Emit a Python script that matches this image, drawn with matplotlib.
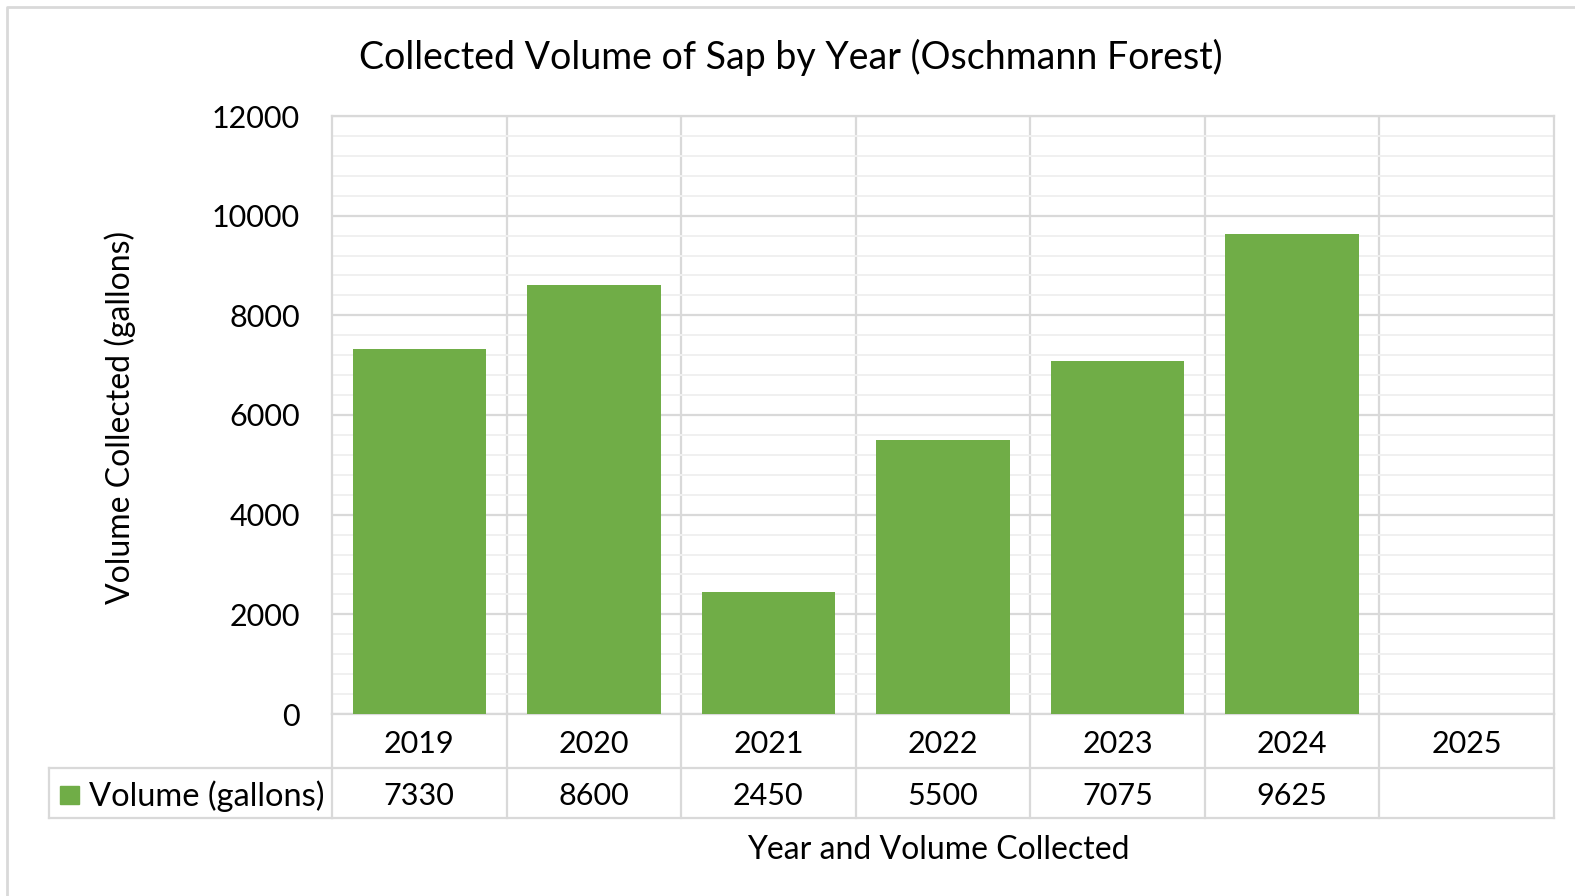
import numpy as np
import matplotlib.pyplot as plt
from matplotlib.patches import Rectangle

plt.rcParams['font.family'] = ['Lato', 'DejaVu Sans']

years = ['2019', '2020', '2021', '2022', '2023', '2024', '2025']
volume = [7330, 8600, 2450, 5500, 7075, 9625, None]
series_name = 'Volume (gallons)'

W, H = 1575, 896
fig = plt.figure(figsize=(W / 100, H / 100), dpi=100)

# plot area in pixels
x0, x1, ytop, ybot = 332, 1554, 116, 714
ax = fig.add_axes([x0 / W, 1 - ybot / H, (x1 - x0) / W, (ybot - ytop) / H])

green = '#70ad47'
grid = '#d9d9d9'
minor = '#f0f0f0'
txt = '#000000'
num_fs = 22
word_fs = 23

xs = np.arange(len(years))
vals = [v if v is not None else 0 for v in volume]
ax.bar(xs, vals, width=0.765, color=green, zorder=3)

ax.set_xlim(-0.5, len(years) - 0.5)
ax.set_ylim(0, 12000)
ax.set_yticks(np.arange(0, 12001, 2000))
ax.set_yticks(np.arange(0, 12001, 400), minor=True)
ax.set_xticks([])
ax.tick_params(axis='y', which='both', length=0, labelsize=num_fs, pad=23)
for lab in ax.get_yticklabels():
    lab.set_verticalalignment('center_baseline')
ax.grid(axis='y', which='major', color=grid, lw=1.6, zorder=1)
ax.grid(axis='y', which='minor', color=minor, lw=1.4, zorder=0)
for s in ax.spines.values():
    s.set_color(grid)
    s.set_linewidth(1.6)

# vertical category separators
for b in np.arange(0.5, len(years) - 1, 1):
    ax.axvline(b, color=grid, lw=1.6, zorder=1)

# data table below the axes
tr = ax.get_xaxis_transform()
row1 = (768 - 714) / (ybot - ytop)
row2 = (818 - 714) / (ybot - ytop)
lc = dict(color=grid, lw=1.6, clip_on=False, zorder=4)
for b in np.arange(-0.5, len(years), 1):
    ax.plot([b, b], [0, -row2], transform=tr, **lc)
ax.plot([-0.5, len(years) - 0.5], [-row1, -row1], transform=tr, **lc)
ax.plot([-0.5, len(years) - 0.5], [-row2, -row2], transform=tr, **lc)

for i, y in enumerate(years):
    ax.text(i, -row1 / 2, y, transform=tr, ha='center', va='center_baseline',
            fontsize=num_fs, color=txt)
    if volume[i] is not None:
        ax.text(i, -(row1 + row2) / 2, str(volume[i]), transform=tr,
                ha='center', va='center_baseline', fontsize=num_fs, color=txt)

# legend cell at the left of the table
lx = 49 / W
fig.add_artist(plt.Line2D([lx, x0 / W], [1 - 768 / H, 1 - 768 / H], color=grid, lw=1.6))
fig.add_artist(plt.Line2D([lx, x0 / W], [1 - 818 / H, 1 - 818 / H], color=grid, lw=1.6))
fig.add_artist(plt.Line2D([lx, lx], [1 - 768 / H, 1 - 818 / H], color=grid, lw=1.6))
fig.add_artist(Rectangle((60 / W, 1 - 804 / H), 19 / W, 18 / H, color=green))
fig.text(89 / W, 1 - 793 / H, series_name, ha='left', va='center_baseline',
         fontsize=23.5, color=txt)

# titles
fig.text(791 / W, 1 - 54 / H, 'Collected Volume of Sap by Year (Oschmann Forest)',
         ha='center', va='center_baseline', fontsize=27, color=txt)
fig.text(938 / W, 1 - 847 / H, 'Year and Volume Collected', ha='center',
         va='center_baseline', fontsize=word_fs, color=txt)
fig.text(120 / W, 1 - 417 / H, 'Volume Collected (gallons)', ha='center', va='center',
         rotation=90, fontsize=word_fs, color=txt)

# outer chart border
fig.add_artist(plt.Line2D([7 / W, 7 / W, 1], [0, 1 - 7 / H, 1 - 7 / H], color=grid, lw=2))

fig.savefig('out.png', dpi=100)
